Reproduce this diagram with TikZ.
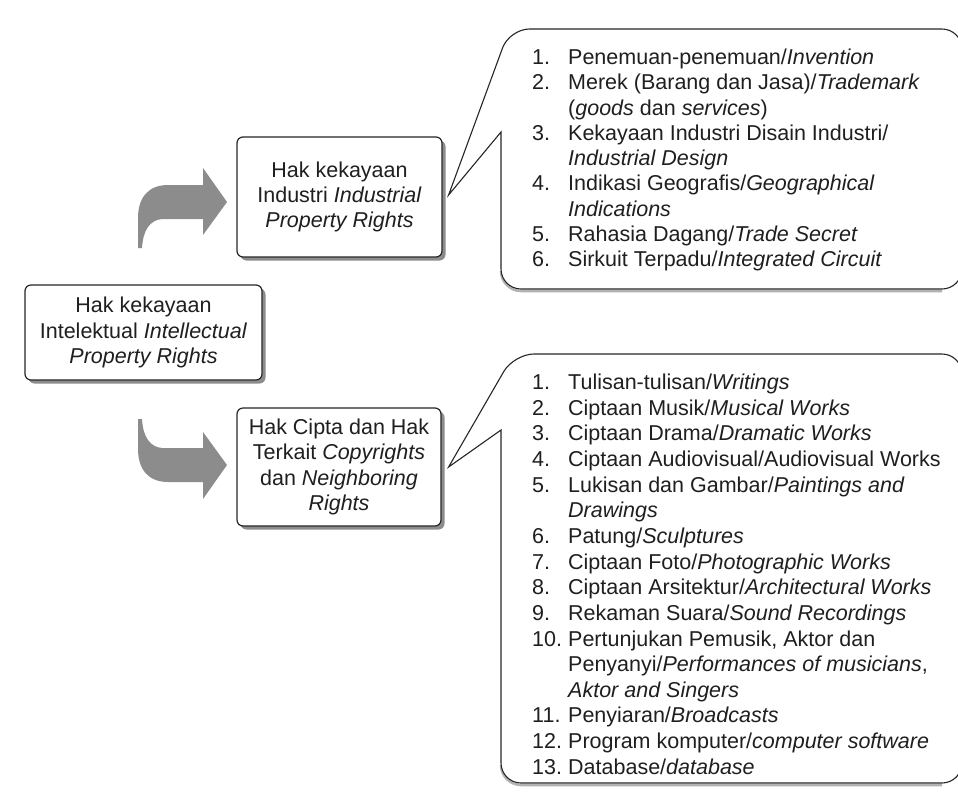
\documentclass[tikz,border=0pt]{standalone}
\usepackage{fontspec}
\setmainfont{Liberation Sans}
\usetikzlibrary{shadows,calc}
\newcommand\numcol[1]{\makebox[36pt][l]{#1}}
\begin{document}
\begin{tikzpicture}[x=1pt,y=-1pt,
  every node/.style={font=\fontsize{21.5}{25.4}\selectfont, text=black!88},
  rbox/.style={draw=black!85, line width=1.2pt, rounded corners=6pt, fill=white,
    align=center, inner sep=0pt,
    drop shadow={shadow xshift=3.5pt, shadow yshift=-3.5pt, fill=black!45, opacity=1}},
  bentarrow/.style={fill=black!45, draw=none},
  callout/.style={draw=black!85, line width=1.1pt, fill=white, line join=miter},
  calloutshade/.style={draw=black!30, line width=2.5pt},
  listnode/.style={anchor=base west, inner sep=0pt},
]
\useasboundingbox (0,0) rectangle (958,793);
\fill[white] (0,0) rectangle (958,793);
\clip (0,0) rectangle (958,793);

% main boxes
\node[rbox, minimum width=237pt, minimum height=95pt] (ipr) at (143.5,332.5)
  {Hak kekayaan\\Intelektual \textit{Intellectual}\\\textit{Property Rights}};
\node[rbox, minimum width=205pt, minimum height=120pt] (industri) at (339.5,197)
  {Hak kekayaan\\Industri \textit{Industrial}\\\textit{Property Rights}};
\node[rbox, minimum width=204pt, minimum height=118pt] (hakcipta) at (339,467)
  {Hak Cipta dan Hak\\Terkait \textit{Copyrights}\\dan \textit{Neighboring}\\\textit{Rights}};

% bent block arrows
\fill[bentarrow] (203,168) -- (227,202) -- (203,235) -- (203,219) -- (162,219)
  .. controls (150,220) and (143,230) .. (142,248) -- (138,248) -- (138,218)
  .. controls (138,198) and (148,185) .. (168,185) -- (203,185) -- cycle;
\fill[bentarrow] (203,499) -- (227,465) -- (203,432) -- (203,448) -- (162,448)
  .. controls (150,447) and (143,437) .. (142,419) -- (138,419) -- (138,449)
  .. controls (138,469) and (148,482) .. (168,482) -- (203,482) -- cycle;

% callout tips next to the boxes
\coordinate (tipA) at ([xshift=6pt,yshift=2pt]industri.east);
\coordinate (tipB) at ([xshift=7pt]hakcipta.east);

% callout for industrial property
\path[calloutshade] ([yshift=-2pt]501,269) .. controls ([yshift=-2pt]501,280) and ([yshift=-2pt]510,289) .. ([yshift=-2pt]521,289) -- ([yshift=-2pt]942,289);
\draw[callout] (tipA) -- (501,132) -- (501,269)
  .. controls (501,280) and (510,289) .. (521,289) -- (942,289)
  .. controls (953,289) and (962,280) .. (962,269) -- (962,49)
  .. controls (962,38) and (953,29) .. (942,29) -- (529.5,29)
  .. controls (518.5,29) and (506.4,37.4) .. (502.6,47.8) -- cycle;

% callout for copyrights
\path[calloutshade] ([yshift=-2pt]501,763) .. controls ([yshift=-2pt]501,774) and ([yshift=-2pt]510,783) .. ([yshift=-2pt]521,783) -- ([yshift=-2pt]942,783);
\draw[callout] (tipB) -- (501,430) -- (501,763)
  .. controls (501,774) and (510,783) .. (521,783) -- (942,783)
  .. controls (953,783) and (962,774) .. (962,763) -- (962,374)
  .. controls (962,363) and (953,354) .. (942,354) -- (534,354)
  .. controls (523,354) and (509.5,361.8) .. (503.9,371.3) -- cycle;

% lists
\node[listnode] (indlist) at (532,64.5) {\fontsize{21.5}{25.25}\selectfont
\begin{tabular}[t]{@{}l@{}l@{}}
\numcol{1.} & Penemuan-penemuan/\textit{Invention}\\
\numcol{2.} & Merek (Barang dan Jasa)/\textit{Trademark}\\
 & (\textit{goods} dan \textit{services})\\
\numcol{3.} & Kekayaan Industri Disain Industri/\\
 & \textit{Industrial Design}\\
\numcol{4.} & Indikasi Geografis/\textit{Geographical}\\
 & \textit{Indications}\\
\numcol{5.} & Rahasia Dagang/\textit{Trade Secret}\\
\numcol{6.} & Sirkuit Terpadu/\textit{Integrated Circuit}
\end{tabular}};

\node[listnode] (ciptalist) at (532,389.5) {\fontsize{21.5}{25.65}\selectfont
\begin{tabular}[t]{@{}l@{}l@{}}
\numcol{1.} & Tulisan-tulisan/\textit{Writings}\\
\numcol{2.} & Ciptaan Musik/\textit{Musical Works}\\
\numcol{3.} & Ciptaan Drama/\textit{Dramatic Works}\\
\numcol{4.} & Ciptaan Audiovisual/Audiovisual Works\\
\numcol{5.} & Lukisan dan Gambar/\textit{Paintings and}\\
 & \textit{Drawings}\\
\numcol{6.} & Patung/\textit{Sculptures}\\
\numcol{7.} & Ciptaan Foto/\textit{Photographic Works}\\
\numcol{8.} & Ciptaan Arsitektur/\textit{Architectural Works}\\
\numcol{9.} & Rekaman Suara/\textit{Sound Recordings}\\
\numcol{10.} & Pertunjukan Pemusik, Aktor dan\\
 & Penyanyi/\textit{Performances of musicians},\\
 & \textit{Aktor and Singers}\\
\numcol{11.} & Penyiaran/\textit{Broadcasts}\\
\numcol{12.} & Program komputer/\textit{computer software}\\
\numcol{13.} & Database/\textit{database}
\end{tabular}};
\end{tikzpicture}
\end{document}
